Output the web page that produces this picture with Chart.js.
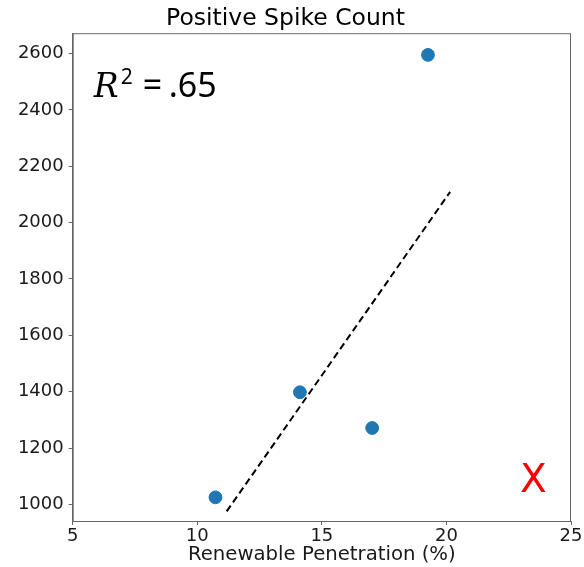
<!DOCTYPE html>
<html>
<head>
<meta charset="utf-8">
<script src="https://cdn.jsdelivr.net/npm/chart.js@4"></script>
<style>
  html, body { margin: 0; padding: 0; background: #fff; }
  #wrap { width: 584px; height: 567px; }
</style>
</head>
<body>
<div id="wrap"><canvas id="spikeChart"></canvas></div>
<script>
// penetration (%) vs. positive spike count
const penetration = [10.73, 14.12, 17.02, 19.26];
const spikeCount = [1025, 1398, 1271, 2595];

// fitted trend, drawn as a dashed segment
const fitX = [11.18, 20.15];
const fitY = [975, 2109];

const xTicks = [5, 10, 15, 20, 25];
const yTicks = [1000, 1200, 1400, 1600, 1800, 2000, 2200, 2400, 2600];

const rSquared = '.65';

const font = "'DejaVu Sans', sans-serif";
const ink = '#1a1a1a';
const spine = '#666';

const points = penetration.map((x, i) => ({ x: x, y: spikeCount[i] }));
const fitLine = fitX.map((x, i) => ({ x: x, y: fitY[i] }));

// box around the plot, R² note and the red marker
const decorations = {
  id: 'decorations',
  afterDraw(chart) {
    const ctx = chart.ctx;
    const a = chart.chartArea;
    const xs = chart.scales.x, ys = chart.scales.y;
    ctx.save();
    ctx.strokeStyle = spine;
    ctx.lineWidth = 1;
    ctx.strokeRect(a.left + 0.5, a.top + 0.5, a.right - a.left - 1, a.bottom - a.top);

    // R² = .65
    ctx.fillStyle = '#000';
    ctx.textBaseline = 'alphabetic';
    const y = a.top + 64;
    ctx.font = "italic 33px 'DejaVu Serif', serif";
    ctx.fillText('R', a.left + 21, y);
    ctx.font = "21px 'Noto Sans', sans-serif";
    ctx.fillText('2', a.left + 48, y - 13);
    ctx.font = "34px 'Noto Sans', sans-serif";
    ctx.fillText('=', a.left + 70, y);
    ctx.fillText(rSquared, a.left + 96, y);

    // red X
    ctx.fillStyle = '#ff0000';
    ctx.font = "39px " + font;
    ctx.textAlign = 'center';
    ctx.textBaseline = 'middle';
    ctx.fillText('X', xs.getPixelForValue(23.49), ys.getPixelForValue(1087) + 2);
    ctx.restore();
  }
};

new Chart(document.getElementById('spikeChart'), {
  type: 'scatter',
  data: {
    datasets: [
      {
        label: 'Spike count',
        data: points,
        backgroundColor: '#1f77b4',
        borderColor: '#1f77b4',
        pointRadius: 6.4,
        pointHoverRadius: 6.4,
        order: 1
      },
      {
        label: 'Fit',
        data: fitLine,
        showLine: true,
        borderColor: '#000',
        borderWidth: 2,
        borderDash: [7, 4],
        pointRadius: 0,
        fill: false,
        order: 2
      }
    ]
  },
  options: {
    responsive: true,
    maintainAspectRatio: false,
    animation: false,
    events: [],
    layout: { padding: { left: 0, right: 13, top: 0, bottom: 0 } },
    plugins: {
      legend: { display: false },
      tooltip: { enabled: false },
      title: {
        display: true,
        text: 'Positive Spike Count',
        color: '#000',
        font: { family: font, size: 23.5, weight: 'normal' },
        padding: { top: 5, bottom: 0 }
      }
    },
    scales: {
      x: {
        type: 'linear',
        min: 5,
        max: 25,
        afterBuildTicks: (s) => { s.ticks = xTicks.map(v => ({ value: v })); },
        afterFit: (s) => { s.height = 46; },
        grid: { drawOnChartArea: false, tickLength: 4, color: spine },
        border: { color: spine },
        ticks: { color: ink, padding: 1, maxRotation: 0, font: { family: font, size: 18 },
                 callback: (v) => String(v) },
        title: {
          display: true,
          text: 'Renewable Penetration (%)',
          color: ink,
          font: { family: font, size: 19.7 },
          padding: { top: 9, bottom: 0 }
        }
      },
      y: {
        type: 'linear',
        min: 941,
        max: 2672,
        afterBuildTicks: (s) => { s.ticks = yTicks.map(v => ({ value: v })); },
        afterFit: (s) => { s.width = 72.7; },
        grid: { drawOnChartArea: false, tickLength: 4, color: spine },
        border: { color: spine },
        ticks: { color: ink, padding: 5, font: { family: font, size: 18 },
                 callback: (v) => String(v) }
      }
    }
  },
  plugins: [decorations]
});
</script>
</body>
</html>
